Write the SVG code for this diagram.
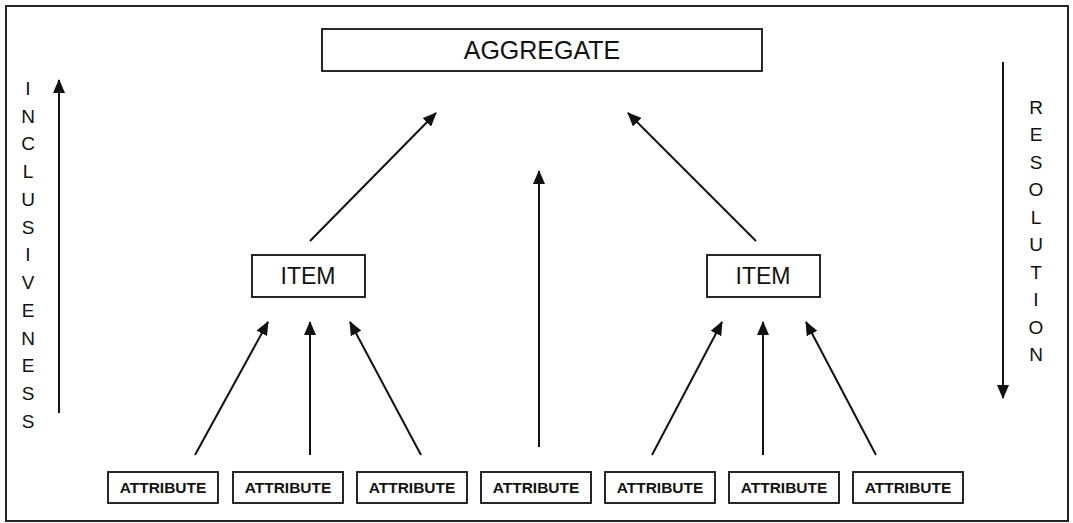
<svg xmlns="http://www.w3.org/2000/svg" width="1073" height="523" viewBox="0 0 1073 523">
<style>
.box{fill:#fff;stroke:#111;stroke-width:1.8}
.lbl{font-family:"Liberation Sans",Arial,sans-serif;fill:#111;text-anchor:middle}
.agg{font-size:25px}
.item{font-size:23px}
.attr{font-size:15.5px;font-weight:bold}
.side{font-family:"Liberation Sans",Arial,sans-serif;fill:#111;text-anchor:middle;font-size:19px}
.conn{stroke:#111;stroke-width:2;fill:none;marker-end:url(#ah)}
</style>
<defs>
<marker id="ah" markerUnits="userSpaceOnUse" markerWidth="14" markerHeight="12" viewBox="0 0 14 12" refX="13" refY="6" orient="auto">
<path d="M0,0 L14,6 L0,12 Z" fill="#111"/>
</marker>
</defs>
<rect x="0" y="0" width="1073" height="523" fill="#fff"/>
<rect x="6" y="6" width="1062" height="515" fill="none" stroke="#222" stroke-width="2"/>

<g id="aggregate">
<rect class="box" x="322" y="29" width="440" height="42"/>
<text class="lbl agg" x="542" y="59">AGGREGATE</text>
</g>
<g id="item-left">
<rect class="box" x="252" y="255" width="113" height="42"/>
<text class="lbl item" x="308" y="284">ITEM</text>
</g>
<g id="item-right">
<rect class="box" x="707" y="255" width="113" height="42"/>
<text class="lbl item" x="763" y="284">ITEM</text>
</g>
<g id="attr1"><rect class="box" x="108" y="472" width="110" height="31"/><text class="lbl attr" x="163" y="493">ATTRIBUTE</text></g>
<g id="attr2"><rect class="box" x="233" y="472" width="110" height="31"/><text class="lbl attr" x="288" y="493">ATTRIBUTE</text></g>
<g id="attr3"><rect class="box" x="357" y="472" width="110" height="31"/><text class="lbl attr" x="412" y="493">ATTRIBUTE</text></g>
<g id="attr4"><rect class="box" x="481" y="472" width="110" height="31"/><text class="lbl attr" x="536" y="493">ATTRIBUTE</text></g>
<g id="attr5"><rect class="box" x="605" y="472" width="110" height="31"/><text class="lbl attr" x="660" y="493">ATTRIBUTE</text></g>
<g id="attr6"><rect class="box" x="729" y="472" width="110" height="31"/><text class="lbl attr" x="784" y="493">ATTRIBUTE</text></g>
<g id="attr7"><rect class="box" x="853" y="472" width="110" height="31"/><text class="lbl attr" x="908" y="493">ATTRIBUTE</text></g>

<g id="inclusiveness">
<text class="side" x="28"><tspan x="28" y="95">I</tspan><tspan x="28" y="123">N</tspan><tspan x="28" y="150">C</tspan><tspan x="28" y="178">L</tspan><tspan x="28" y="206">U</tspan><tspan x="28" y="234">S</tspan><tspan x="28" y="261">I</tspan><tspan x="28" y="289">V</tspan><tspan x="28" y="317">E</tspan><tspan x="28" y="345">N</tspan><tspan x="28" y="372">E</tspan><tspan x="28" y="400">S</tspan><tspan x="28" y="428">S</tspan></text>
</g>
<g id="resolution">
<text class="side" x="1036"><tspan x="1036" y="114">R</tspan><tspan x="1036" y="141">E</tspan><tspan x="1036" y="169">S</tspan><tspan x="1036" y="196">O</tspan><tspan x="1036" y="224">L</tspan><tspan x="1036" y="251">U</tspan><tspan x="1036" y="279">T</tspan><tspan x="1036" y="306">I</tspan><tspan x="1036" y="334">O</tspan><tspan x="1036" y="361">N</tspan></text>
</g>

<g id="connectors">
<line class="conn" x1="59" y1="413" x2="59" y2="80"/>
<line class="conn" x1="1003" y1="62" x2="1003" y2="398"/>
<line class="conn" x1="310" y1="241" x2="436" y2="113"/>
<line class="conn" x1="756" y1="241" x2="628" y2="113"/>
<line class="conn" x1="539" y1="447" x2="539" y2="171"/>
<line class="conn" x1="195" y1="455" x2="268" y2="322"/>
<line class="conn" x1="310" y1="455" x2="310" y2="322"/>
<line class="conn" x1="421" y1="455" x2="350" y2="322"/>
<line class="conn" x1="652" y1="455" x2="722" y2="322"/>
<line class="conn" x1="763" y1="455" x2="763" y2="322"/>
<line class="conn" x1="876" y1="455" x2="806" y2="322"/>
</g>
</svg>
